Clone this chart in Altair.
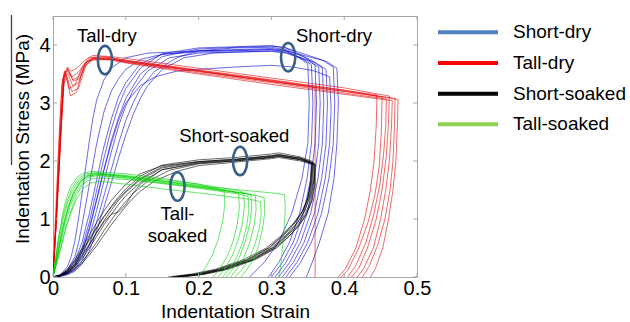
import altair as alt
import pandas as pd

# ---------------- data ----------------
series_names = ["Short-dry", "Tall-dry", "Short-soaked", "Tall-soaked"]

short_dry_x = [
    [0, 0.01, 0.02, 0.025, 0.03, 0.035, 0.04, 0.045, 0.05, 0.055, 0.06, 0.07, 0.08, 0.1, 0.13, 0.2, 0.3, 0.32, 0.335, 0.35, 0.352, 0.35, 0.342, 0.328, 0.31, 0.29, 0.27],
    [0, 0.01, 0.02, 0.03, 0.035, 0.04, 0.045, 0.05, 0.055, 0.06, 0.07, 0.08, 0.09, 0.1, 0.12, 0.15, 0.2, 0.3, 0.32, 0.34, 0.355, 0.357, 0.355, 0.349, 0.339, 0.325, 0.31, 0.296],
    [0, 0.01, 0.02, 0.03, 0.04, 0.05, 0.06, 0.07, 0.08, 0.09, 0.1, 0.12, 0.15, 0.2, 0.25, 0.3, 0.32, 0.345, 0.36, 0.362, 0.36, 0.354, 0.344, 0.33, 0.315, 0.3],
    [0, 0.01, 0.02, 0.03, 0.04, 0.05, 0.06, 0.07, 0.08, 0.09, 0.1, 0.11, 0.13, 0.16, 0.2, 0.25, 0.3, 0.32, 0.35, 0.365, 0.367, 0.365, 0.359, 0.349, 0.335, 0.32, 0.305],
    [0, 0.01, 0.02, 0.03, 0.04, 0.05, 0.06, 0.07, 0.08, 0.09, 0.1, 0.11, 0.12, 0.14, 0.17, 0.2, 0.25, 0.3, 0.32, 0.355, 0.37, 0.372, 0.37, 0.364, 0.354, 0.34, 0.325, 0.31],
    [0, 0.01, 0.02, 0.03, 0.04, 0.05, 0.06, 0.07, 0.08, 0.09, 0.1, 0.11, 0.12, 0.13, 0.15, 0.18, 0.22, 0.3, 0.32, 0.36, 0.375, 0.377, 0.375, 0.369, 0.359, 0.345, 0.33, 0.315],
    [0, 0.01, 0.02, 0.03, 0.04, 0.05, 0.06, 0.07, 0.08, 0.09, 0.1, 0.12, 0.14, 0.17, 0.2, 0.25, 0.3, 0.33, 0.36, 0.38, 0.382, 0.38, 0.374, 0.364, 0.35, 0.335, 0.32],
    [0, 0.01, 0.02, 0.03, 0.04, 0.05, 0.06, 0.07, 0.08, 0.09, 0.1, 0.12, 0.15, 0.2, 0.25, 0.3, 0.32, 0.37, 0.385, 0.387, 0.385, 0.379, 0.369, 0.355, 0.34, 0.325],
    [0, 0.01, 0.02, 0.03, 0.04, 0.05, 0.06, 0.07, 0.08, 0.09, 0.1, 0.12, 0.15, 0.2, 0.25, 0.3, 0.32, 0.375, 0.39, 0.392, 0.39, 0.386, 0.378, 0.366, 0.356, 0.348],
]
short_dry_y = [
    [0, 0.04, 0.18, 0.35, 0.62, 1.0, 1.45, 1.9, 2.35, 2.75, 3.05, 3.4, 3.6, 3.78, 3.86, 3.9, 3.92, 3.89, 3.8, 3.68, 3.0, 2.3, 1.7, 1.1, 0.6, 0.25, 0],
    [0, 0.03, 0.12, 0.35, 0.58, 0.9, 1.25, 1.6, 1.95, 2.3, 2.85, 3.2, 3.42, 3.58, 3.75, 3.84, 3.9, 3.94, 3.9, 3.78, 3.66, 3.0, 2.3, 1.7, 1.1, 0.6, 0.25, 0],
    [0, 0.02, 0.08, 0.22, 0.5, 0.95, 1.5, 2.05, 2.55, 2.95, 3.25, 3.6, 3.85, 3.95, 3.97, 3.99, 3.95, 3.8, 3.66, 3.0, 2.3, 1.7, 1.1, 0.6, 0.25, 0],
    [0, 0.02, 0.06, 0.15, 0.35, 0.7, 1.15, 1.65, 2.15, 2.6, 2.95, 3.22, 3.55, 3.78, 3.86, 3.88, 3.89, 3.86, 3.73, 3.62, 3.0, 2.3, 1.7, 1.1, 0.6, 0.25, 0],
    [0, 0.02, 0.05, 0.12, 0.28, 0.55, 0.95, 1.4, 1.85, 2.3, 2.7, 3.0, 3.25, 3.55, 3.78, 3.9, 3.95, 3.96, 3.92, 3.74, 3.6, 3.0, 2.3, 1.7, 1.1, 0.6, 0.25, 0],
    [0, 0.01, 0.04, 0.1, 0.22, 0.45, 0.8, 1.2, 1.62, 2.05, 2.45, 2.8, 3.08, 3.3, 3.58, 3.78, 3.86, 3.9, 3.87, 3.7, 3.58, 3.0, 2.3, 1.7, 1.1, 0.6, 0.25, 0],
    [0, 0.02, 0.07, 0.2, 0.45, 0.85, 1.35, 1.85, 2.3, 2.7, 3.0, 3.3, 3.45, 3.55, 3.58, 3.62, 3.65, 3.62, 3.55, 3.45, 2.9, 2.3, 1.7, 1.1, 0.6, 0.25, 0],
    [0, 0.02, 0.07, 0.18, 0.42, 0.82, 1.32, 1.85, 2.35, 2.75, 3.08, 3.5, 3.8, 3.93, 3.96, 3.98, 3.95, 3.74, 3.62, 3.0, 2.3, 1.7, 1.1, 0.6, 0.25, 0],
    [0, 0.03, 0.1, 0.28, 0.6, 1.1, 1.68, 2.25, 2.72, 3.1, 3.35, 3.68, 3.84, 3.88, 3.9, 3.92, 3.9, 3.72, 3.6, 3.0, 2.3, 1.7, 1.1, 0.6, 0.25, 0],
]

tall_dry_x = [
    [0, 0.004, 0.008, 0.012, 0.016, 0.022, 0.03, 0.04, 0.05, 0.07, 0.1, 0.2, 0.3, 0.4, 0.445, 0.444, 0.441, 0.436, 0.428, 0.416, 0.402, 0.392],
    [0, 0.005, 0.01, 0.014, 0.02, 0.026, 0.034, 0.045, 0.055, 0.08, 0.1, 0.2, 0.3, 0.4, 0.452, 0.451, 0.448, 0.442, 0.433, 0.42, 0.405, 0.396],
    [0, 0.004, 0.009, 0.013, 0.018, 0.024, 0.032, 0.042, 0.052, 0.08, 0.1, 0.2, 0.3, 0.4, 0.458, 0.457, 0.454, 0.449, 0.441, 0.43, 0.416, 0.405],
    [0, 0.005, 0.011, 0.015, 0.02, 0.025, 0.033, 0.044, 0.055, 0.08, 0.1, 0.2, 0.3, 0.4, 0.462, 0.461, 0.458, 0.452, 0.444, 0.432, 0.42, 0.41],
    [0, 0.004, 0.009, 0.014, 0.019, 0.026, 0.035, 0.045, 0.056, 0.08, 0.1, 0.2, 0.3, 0.4, 0.466, 0.465, 0.462, 0.457, 0.45, 0.44, 0.427, 0.418],
    [0, 0.006, 0.012, 0.016, 0.021, 0.028, 0.036, 0.046, 0.057, 0.08, 0.1, 0.2, 0.3, 0.4, 0.47, 0.469, 0.467, 0.463, 0.456, 0.446, 0.434, 0.425],
    [0, 0.005, 0.01, 0.015, 0.02, 0.027, 0.035, 0.045, 0.055, 0.08, 0.1, 0.2, 0.3, 0.4, 0.474, 0.473, 0.471, 0.467, 0.461, 0.453, 0.443, 0.436],
    [0, 0.005, 0.01, 0.015, 0.02, 0.027, 0.035, 0.045, 0.055, 0.08, 0.1, 0.2, 0.3, 0.36, 0.36],
]
tall_dry_y = [
    [0, 1.0, 2.2, 3.3, 3.55, 3.25, 3.3, 3.62, 3.78, 3.8, 3.74, 3.57, 3.4, 3.22, 3.14, 2.6, 2.0, 1.5, 1.0, 0.5, 0.15, 0],
    [0, 1.1, 2.4, 3.45, 3.6, 3.45, 3.52, 3.7, 3.76, 3.76, 3.72, 3.55, 3.37, 3.2, 3.1, 2.5, 1.9, 1.4, 0.95, 0.5, 0.12, 0],
    [0, 1.2, 2.6, 3.4, 3.5, 3.12, 3.18, 3.6, 3.74, 3.75, 3.7, 3.52, 3.35, 3.17, 3.07, 2.6, 2.1, 1.6, 1.1, 0.6, 0.2, 0],
    [0, 1.0, 2.5, 3.5, 3.62, 3.55, 3.6, 3.74, 3.82, 3.8, 3.77, 3.6, 3.43, 3.26, 3.12, 2.7, 2.1, 1.5, 1.0, 0.5, 0.15, 0],
    [0, 0.9, 2.2, 3.3, 3.45, 3.2, 3.25, 3.65, 3.76, 3.74, 3.69, 3.5, 3.32, 3.15, 3.04, 2.6, 2.0, 1.5, 1.0, 0.5, 0.15, 0],
    [0, 1.3, 2.7, 3.5, 3.58, 3.38, 3.42, 3.68, 3.77, 3.76, 3.71, 3.54, 3.37, 3.2, 3.08, 2.6, 2.0, 1.5, 1.0, 0.55, 0.18, 0],
    [0, 1.1, 2.3, 3.4, 3.52, 3.3, 3.35, 3.7, 3.79, 3.78, 3.73, 3.56, 3.39, 3.22, 3.06, 2.6, 2.0, 1.5, 1.0, 0.5, 0.15, 0],
    [0, 1.15, 2.45, 3.45, 3.56, 3.4, 3.45, 3.7, 3.77, 3.76, 3.72, 3.55, 3.38, 3.27, 0],
]

short_soaked_x = [
    [0, 0.01, 0.02, 0.03, 0.04, 0.05, 0.06, 0.07, 0.08, 0.1, 0.12, 0.15, 0.2, 0.25, 0.3, 0.31, 0.34, 0.356, 0.355, 0.35, 0.342, 0.331, 0.316, 0.296, 0.266, 0.226, 0.196, 0.162],
    [0, 0.01, 0.02, 0.03, 0.04, 0.05, 0.06, 0.07, 0.08, 0.09, 0.1, 0.12, 0.15, 0.2, 0.25, 0.3, 0.31, 0.34, 0.358, 0.357, 0.352, 0.345, 0.335, 0.32, 0.3, 0.27, 0.23, 0.2, 0.165],
    [0, 0.01, 0.02, 0.03, 0.04, 0.05, 0.06, 0.07, 0.08, 0.09, 0.1, 0.11, 0.13, 0.16, 0.2, 0.25, 0.3, 0.31, 0.34, 0.36, 0.359, 0.355, 0.348, 0.338, 0.324, 0.305, 0.276, 0.236, 0.205, 0.17],
    [0, 0.01, 0.02, 0.03, 0.04, 0.05, 0.06, 0.07, 0.08, 0.09, 0.1, 0.11, 0.12, 0.15, 0.2, 0.25, 0.3, 0.31, 0.34, 0.355, 0.354, 0.349, 0.341, 0.33, 0.314, 0.293, 0.262, 0.222, 0.19, 0.158],
    [0, 0.01, 0.02, 0.03, 0.04, 0.05, 0.06, 0.07, 0.08, 0.09, 0.1, 0.12, 0.15, 0.2, 0.25, 0.3, 0.31, 0.34, 0.357, 0.356, 0.352, 0.346, 0.337, 0.323, 0.304, 0.275, 0.236, 0.206, 0.172],
    [0, 0.01, 0.02, 0.03, 0.04, 0.05, 0.06, 0.07, 0.08, 0.09, 0.1, 0.11, 0.12, 0.14, 0.17, 0.2, 0.25, 0.3, 0.31, 0.34, 0.359, 0.358, 0.354, 0.347, 0.337, 0.322, 0.302, 0.272, 0.232, 0.2, 0.168],
    [0, 0.01, 0.02, 0.03, 0.04, 0.05, 0.06, 0.07, 0.08, 0.09, 0.1, 0.12, 0.15, 0.2, 0.25, 0.3, 0.31, 0.34, 0.355, 0.354, 0.35, 0.343, 0.333, 0.318, 0.298, 0.268, 0.228, 0.197, 0.164],
    [0, 0.01, 0.02, 0.03, 0.04, 0.05, 0.06, 0.07, 0.08, 0.09, 0.1, 0.12, 0.15, 0.2, 0.25, 0.3, 0.31, 0.34, 0.36, 0.36, 0.356, 0.349, 0.34, 0.326, 0.307, 0.278, 0.24, 0.21, 0.178],
]
short_soaked_y = [
    [0, 0.04, 0.14, 0.3, 0.5, 0.72, 0.94, 1.14, 1.32, 1.6, 1.78, 1.92, 1.99, 2.03, 2.09, 2.11, 2.05, 1.97, 1.65, 1.35, 1.12, 0.93, 0.72, 0.5, 0.3, 0.13, 0.05, 0],
    [0, 0.03, 0.1, 0.22, 0.38, 0.57, 0.77, 0.97, 1.15, 1.32, 1.46, 1.68, 1.88, 1.98, 2.02, 2.08, 2.1, 2.04, 1.96, 1.65, 1.35, 1.12, 0.93, 0.72, 0.5, 0.3, 0.13, 0.05, 0],
    [0, 0.02, 0.07, 0.15, 0.27, 0.42, 0.6, 0.8, 0.98, 1.15, 1.3, 1.44, 1.65, 1.84, 1.95, 2.0, 2.06, 2.08, 2.03, 1.95, 1.6, 1.3, 1.08, 0.9, 0.7, 0.5, 0.3, 0.13, 0.05, 0],
    [0, 0.03, 0.09, 0.2, 0.36, 0.55, 0.76, 0.95, 1.08, 1.12, 1.25, 1.45, 1.6, 1.85, 1.97, 2.01, 2.07, 2.09, 2.02, 1.95, 1.62, 1.32, 1.1, 0.92, 0.72, 0.5, 0.3, 0.13, 0.05, 0],
    [0, 0.03, 0.11, 0.25, 0.43, 0.63, 0.84, 1.04, 1.22, 1.38, 1.52, 1.74, 1.93, 2.02, 2.06, 2.12, 2.14, 2.07, 1.99, 1.68, 1.38, 1.15, 0.95, 0.74, 0.52, 0.31, 0.14, 0.05, 0],
    [0, 0.02, 0.06, 0.13, 0.24, 0.38, 0.54, 0.72, 0.9, 1.06, 1.22, 1.36, 1.48, 1.66, 1.82, 1.92, 1.98, 2.04, 2.06, 2.0, 1.93, 1.62, 1.32, 1.1, 0.91, 0.71, 0.49, 0.29, 0.12, 0.04, 0],
    [0, 0.03, 0.12, 0.27, 0.46, 0.66, 0.86, 1.04, 1.2, 1.35, 1.48, 1.7, 1.9, 1.99, 2.03, 2.09, 2.11, 2.05, 1.98, 1.66, 1.36, 1.13, 0.94, 0.73, 0.51, 0.3, 0.13, 0.05, 0],
    [0, 0.02, 0.08, 0.18, 0.32, 0.5, 0.7, 0.9, 1.08, 1.25, 1.4, 1.63, 1.85, 1.96, 2.0, 2.06, 2.08, 2.02, 1.94, 1.6, 1.32, 1.1, 0.92, 0.72, 0.5, 0.3, 0.13, 0.05, 0],
]

tall_soaked_x = [
    [0, 0.004, 0.008, 0.012, 0.017, 0.024, 0.033, 0.043, 0.055, 0.1, 0.15, 0.2, 0.225, 0.235, 0.236, 0.233, 0.227, 0.219, 0.209, 0.2],
    [0, 0.005, 0.01, 0.015, 0.021, 0.028, 0.037, 0.047, 0.06, 0.1, 0.15, 0.2, 0.245, 0.255, 0.256, 0.253, 0.247, 0.239, 0.229, 0.22],
    [0, 0.004, 0.009, 0.014, 0.02, 0.027, 0.036, 0.046, 0.058, 0.1, 0.15, 0.2, 0.25, 0.262, 0.263, 0.26, 0.254, 0.246, 0.236, 0.227],
    [0, 0.006, 0.012, 0.018, 0.025, 0.032, 0.04, 0.05, 0.062, 0.1, 0.15, 0.2, 0.255, 0.268, 0.269, 0.266, 0.26, 0.252, 0.242, 0.233],
    [0, 0.005, 0.01, 0.016, 0.022, 0.03, 0.039, 0.049, 0.06, 0.1, 0.15, 0.2, 0.26, 0.272, 0.273, 0.27, 0.264, 0.256, 0.246, 0.238],
    [0, 0.004, 0.008, 0.013, 0.019, 0.026, 0.035, 0.045, 0.057, 0.1, 0.15, 0.2, 0.265, 0.278, 0.279, 0.276, 0.27, 0.262, 0.252, 0.244],
    [0, 0.006, 0.012, 0.018, 0.025, 0.033, 0.042, 0.052, 0.065, 0.1, 0.15, 0.2, 0.27, 0.285, 0.286, 0.283, 0.277, 0.269, 0.259, 0.25],
    [0, 0.005, 0.011, 0.017, 0.023, 0.031, 0.04, 0.05, 0.062, 0.1, 0.15, 0.2, 0.275, 0.29, 0.291, 0.288, 0.283, 0.276, 0.266, 0.258],
    [0, 0.005, 0.01, 0.015, 0.021, 0.029, 0.038, 0.048, 0.06, 0.1, 0.15, 0.2, 0.3, 0.318, 0.319, 0.318, 0.316, 0.314, 0.312, 0.31],
]
tall_soaked_y = [
    [0, 0.35, 0.7, 1.0, 1.3, 1.55, 1.72, 1.8, 1.82, 1.78, 1.7, 1.6, 1.52, 1.48, 1.25, 0.95, 0.65, 0.38, 0.15, 0],
    [0, 0.3, 0.62, 0.92, 1.2, 1.45, 1.64, 1.74, 1.77, 1.73, 1.66, 1.58, 1.48, 1.44, 1.2, 0.9, 0.6, 0.35, 0.14, 0],
    [0, 0.32, 0.68, 1.0, 1.28, 1.5, 1.67, 1.76, 1.79, 1.75, 1.68, 1.6, 1.5, 1.46, 1.22, 0.92, 0.62, 0.36, 0.14, 0],
    [0, 0.28, 0.58, 0.88, 1.15, 1.4, 1.58, 1.68, 1.71, 1.68, 1.61, 1.53, 1.43, 1.39, 1.15, 0.88, 0.58, 0.33, 0.13, 0],
    [0, 0.3, 0.64, 0.95, 1.22, 1.47, 1.65, 1.74, 1.76, 1.71, 1.63, 1.55, 1.45, 1.42, 1.18, 0.9, 0.6, 0.34, 0.13, 0],
    [0, 0.34, 0.7, 1.02, 1.3, 1.53, 1.7, 1.78, 1.8, 1.74, 1.65, 1.56, 1.44, 1.4, 1.16, 0.88, 0.58, 0.33, 0.13, 0],
    [0, 0.27, 0.56, 0.85, 1.12, 1.36, 1.53, 1.62, 1.65, 1.6, 1.52, 1.45, 1.34, 1.3, 1.08, 0.82, 0.55, 0.31, 0.12, 0],
    [0, 0.3, 0.62, 0.93, 1.2, 1.44, 1.62, 1.72, 1.75, 1.7, 1.62, 1.54, 1.42, 1.37, 1.12, 0.85, 0.56, 0.32, 0.12, 0],
    [0, 0.31, 0.64, 0.95, 1.23, 1.48, 1.66, 1.75, 1.78, 1.73, 1.65, 1.57, 1.45, 1.42, 1.2, 0.9, 0.6, 0.35, 0.12, 0],
]

x_ticks = [0, 0.1, 0.2, 0.3, 0.4, 0.5]
y_ticks = [0, 1, 2, 3, 4]

annot_text = ["Tall-dry", "Short-dry", "Short-soaked", "Tall-\nsoaked"]
annot_strain = [0.074, 0.386, 0.249, 0.171]
annot_stress = [4.06, 4.06, 2.33, 0.98]
ellipse_strain = [0.0714, 0.323, 0.257, 0.171]
ellipse_stress = [3.74, 3.79, 2.0, 1.56]

# ---------------- styling ----------------
line_colors = ["#0000d8", "#e60000", "#000000", "#00d200"]
legend_colors = ["#4f81bd", "#ff0000", "#000000", "#92d050"]
frame_col = "#a6a6a6"
FONT = "Liberation Sans"
W, H = 364, 261

rows = []
for name, xs_list, ys_list in [
    ("Short-dry", short_dry_x, short_dry_y),
    ("Tall-dry", tall_dry_x, tall_dry_y),
    ("Short-soaked", short_soaked_x, short_soaked_y),
    ("Tall-soaked", tall_soaked_x, tall_soaked_y),
]:
    for ci, (xs, ys) in enumerate(zip(xs_list, ys_list)):
        n = min(len(xs), len(ys))
        for i in range(n):
            rows.append({"series": name, "curve": f"{name}-{ci}", "i": i,
                         "strain": xs[i], "stress": ys[i]})
df = pd.DataFrame(rows)

xscale = alt.Scale(domain=[0, 0.5], nice=False, zero=False)
yscale = alt.Scale(domain=[0, 4.5], nice=False, zero=False)

x_axis = alt.Axis(
    values=x_ticks, format="~g", ticks=False, domain=False, grid=False,
    labelFontSize=20, labelColor="black", labelFont=FONT, labelPadding=1,
    labelFlush=False, labelOverlap=False,
    title="Indentation Strain", titleFontSize=19, titleFont=FONT,
    titleFontWeight="normal", titleColor="black", titleY=25, titleBaseline="top")
y_axis = alt.Axis(
    values=y_ticks, format="~g", ticks=False, domain=False, grid=False,
    labelFontSize=20, labelColor="black", labelFont=FONT, labelPadding=3,
    labelOverlap=False,
    title="Indentation Stress (MPa)", titleFontSize=19, titleFont=FONT,
    titleFontWeight="normal", titleColor="black", titleAngle=270,
    titleX=-31, titleY=122.5, titleBaseline="middle", titleAlign="center")


def X():
    return alt.X("strain:Q", scale=xscale, axis=x_axis)


def Y():
    return alt.Y("stress:Q", scale=yscale, axis=y_axis)


lines = alt.Chart(df).mark_line(strokeWidth=0.65, opacity=0.9, clip=True).encode(
    x=X(), y=Y(),
    color=alt.Color("series:N", scale=alt.Scale(domain=series_names, range=line_colors), legend=None),
    detail="curve:N",
    order="i:Q",
)

xt = pd.DataFrame({"strain": x_ticks})
yt = pd.DataFrame({"stress": y_ticks})
tick_b = alt.Chart(xt).mark_rule(color=frame_col, strokeWidth=1).encode(
    x=X(), y=alt.value(H), y2=alt.value(H - 4))
tick_t = alt.Chart(xt).mark_rule(color=frame_col, strokeWidth=1).encode(
    x=X(), y=alt.value(0), y2=alt.value(4))
tick_l = alt.Chart(yt).mark_rule(color=frame_col, strokeWidth=1).encode(
    y=Y(), x=alt.value(0), x2=alt.value(4))
tick_r = alt.Chart(yt).mark_rule(color=frame_col, strokeWidth=1).encode(
    y=Y(), x=alt.value(W), x2=alt.value(W - 4))

ann_df = pd.DataFrame({"label": annot_text, "strain": annot_strain, "stress": annot_stress})
ann = alt.Chart(ann_df).mark_text(fontSize=18.5, font=FONT, color="black", align="center",
                                  baseline="alphabetic", lineBreak="\n", lineHeight=21.7).encode(
    x=X(), y=Y(), text="label:N",
)

ell_df = pd.DataFrame({"strain": ellipse_strain, "stress": ellipse_stress})
ellipse_path = "M0,-1A0.5,1 0 1,1 0,1A0.5,1 0 1,1 0,-1Z"
ell = alt.Chart(ell_df).mark_point(shape=ellipse_path, filled=False, size=812,
                                   stroke="#3a5f88", strokeWidth=2.6, opacity=1).encode(
    x=X(), y=Y(),
)

leg_df = pd.DataFrame({"series": series_names, "row": list(range(len(series_names)))})
leg_rule = alt.Chart(leg_df).transform_calculate(py="16.3 + datum.row * 30.67").mark_rule(
    strokeWidth=4).encode(
    x=alt.value(385), x2=alt.value(445),
    y=alt.Y("py:Q", scale=None),
    color=alt.Color("series:N", scale=alt.Scale(domain=series_names, range=legend_colors), legend=None),
)
leg_text = alt.Chart(leg_df).transform_calculate(py="16.3 + datum.row * 30.67").mark_text(
    align="left", baseline="middle", fontSize=19, font=FONT, color="black").encode(
    x=alt.value(460),
    y=alt.Y("py:Q", scale=None),
    text="series:N",
)

stray = alt.Chart(leg_df.head(1)).mark_rule(color="#444444", strokeWidth=1.3).encode(
    x=alt.value(-41.5), y=alt.value(-1), y2=alt.value(149))

chart = alt.layer(lines, tick_b, tick_t, tick_l, tick_r, ell, ann, leg_rule, leg_text, stray).resolve_scale(
    color="independent"
).properties(
    width=W, height=H,
    autosize=alt.AutoSizeParams(type="none"),
    padding={"left": 53, "top": 16, "right": 630 - 53 - W, "bottom": 322 - 16 - H},
    background="white",
).configure_view(
    stroke=frame_col, strokeWidth=1
)

chart.save("out.html", embed_options={"renderer": "svg", "actions": False})
